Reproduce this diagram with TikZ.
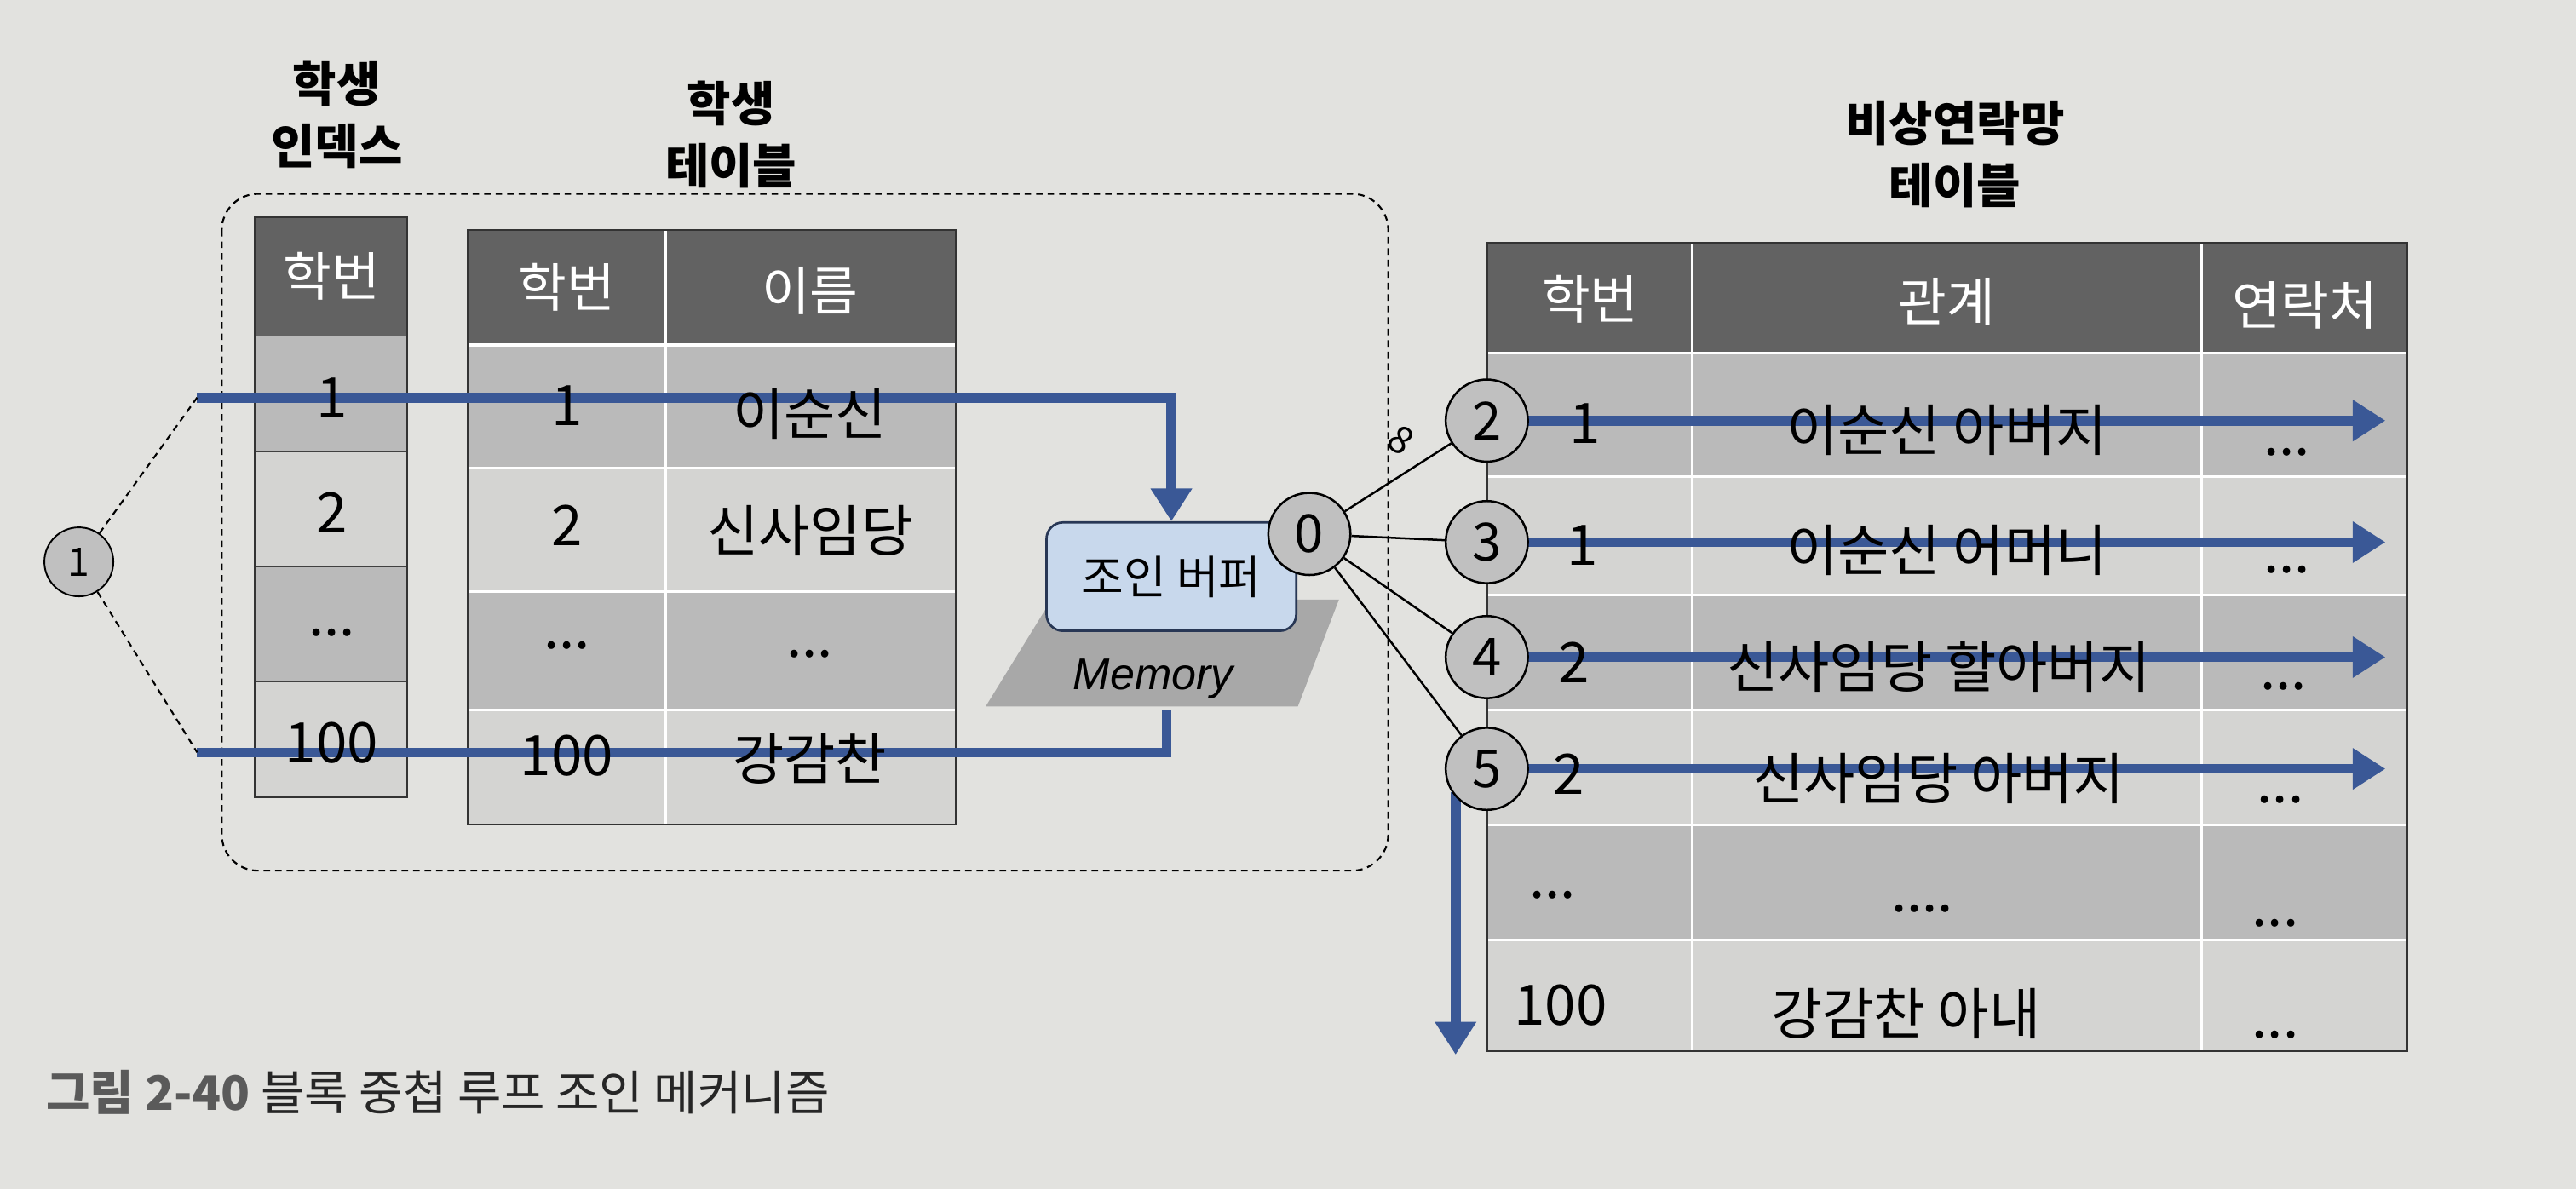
\documentclass[tikz,border=0pt]{standalone}
\usepackage{fontspec}
\setmainfont{Noto Sans CJK KR}
\newfontfamily\latf{Liberation Sans}
\usetikzlibrary{arrows.meta}
\definecolor{paper}{RGB}{226,226,223}
\definecolor{hdr}{RGB}{98,98,98}
\definecolor{rowd}{RGB}{186,186,186}
\definecolor{rowl}{RGB}{212,212,210}
\definecolor{bluel}{RGB}{58,88,150}
\definecolor{bufc}{RGB}{200,216,236}
\definecolor{bufd}{RGB}{40,55,85}
\definecolor{memc}{RGB}{168,168,168}
\definecolor{circc}{RGB}{192,192,192}
\definecolor{capg}{RGB}{90,90,90}
\begin{document}
\begin{tikzpicture}[x=1pt,y=-1pt,
  cell/.style={font=\fontsize{34}{38}\selectfont, text=black, inner sep=0pt},
  hcell/.style={font=\fontsize{32}{36}\selectfont, text=white, inner sep=0pt},
  ttl/.style={font=\fontsize{29}{38}\selectfont\bfseries, align=center, inner sep=0pt},
  numc/.style={circle, draw=black, line width=1.3pt, fill=circc, minimum size=50pt, inner sep=0pt, font=\fontsize{32}{34}\selectfont},
  flow/.style={draw=bluel, line width=6pt},
  flowarr/.style={flow, -{Triangle[width=24pt,length=20pt]}},
  link/.style={draw=black, line width=1.3pt},
  sepw/.style={draw=white, line width=1.6pt},
  sepd/.style={draw=black!75, line width=1pt},
  frame/.style={draw=black!80, line width=1.2pt},
  dsh/.style={draw=black, line width=1.1pt, dash pattern=on 4pt off 3pt}
]
% background
\fill[paper] (0,0) rectangle (1568,724);

% ---------- student index ----------
\fill[hdr]  (155,132) rectangle (248,205);
\fill[rowd] (155,205) rectangle (248,275);
\fill[rowl] (155,275) rectangle (248,345);
\fill[rowd] (155,345) rectangle (248,415);
\fill[rowl] (155,415) rectangle (248,485);
\draw[sepd] (155,275) -- (248,275);
\draw[sepd] (155,345) -- (248,345);
\draw[sepd] (155,415) -- (248,415);
\draw[frame] (155,132) rectangle (248,485);

% ---------- student table ----------
\fill[hdr]  (285,140) rectangle (582,210);
\fill[rowd] (285,210) rectangle (582,285);
\fill[rowl] (285,285) rectangle (582,360);
\fill[rowd] (285,360) rectangle (582,432);
\fill[rowl] (285,432) rectangle (582,502);
\draw[sepw] (285,210) -- (582,210);
\draw[sepw] (285,285) -- (582,285);
\draw[sepw] (285,360) -- (582,360);
\draw[sepw] (285,432) -- (582,432);
\draw[sepw] (405,140) -- (405,502);
\draw[frame] (285,140) rectangle (582,502);

% ---------- contact table ----------
\fill[hdr]  (905,148) rectangle (1465,215);
\fill[rowd] (905,215) rectangle (1465,290);
\fill[rowl] (905,290) rectangle (1465,362);
\fill[rowd] (905,362) rectangle (1465,432);
\fill[rowl] (905,432) rectangle (1465,502);
\fill[rowd] (905,502) rectangle (1465,572);
\fill[rowl] (905,572) rectangle (1465,640);
\foreach \yy in {215,290,362,432,502,572} \draw[sepw] (905,\yy) -- (1465,\yy);
\draw[sepw] (1030,148) -- (1030,640);
\draw[sepw] (1340,148) -- (1340,640);
\draw[frame] (905,148) rectangle (1465,640);

% ---------- dashed block ----------
\draw[dsh, rounded corners=22pt] (135,118) rectangle (845,530);

% ---------- memory / join buffer ----------
\fill[memc] (640,365) -- (815,365) -- (790,430) -- (600,430) -- cycle;
\node[font=\latf\itshape\fontsize{27}{32}\selectfont, inner sep=0pt] (mem) at (702,413) {Memory};
\node[draw=bufd, line width=1.4pt, fill=bufc, rounded corners=10pt, minimum width=152pt, minimum height=66pt,
      font=\fontsize{28}{30}\selectfont] (buf) at (713,351) {조인 버퍼};

% ---------- coordinates ----------
\coordinate (ts) at (120,242);
\coordinate (bs) at (120,458);
\coordinate (membot) at (710,432);
\coordinate (a2) at (1452,256);
\coordinate (a3) at (1452,330);
\coordinate (a4) at (1452,400);
\coordinate (a5) at (1452,468);
\coordinate (vd) at (886,642);
\coordinate (vs) at (886,482);

% ---------- blue flows ----------
\draw[flowarr] (ts) -| (buf.north);
\draw[flow] (bs) -| (membot);
\draw[flowarr] (905,256) -- (a2);
\draw[flowarr] (905,330) -- (a3);
\draw[flowarr] (905,400) -- (a4);
\draw[flowarr] (905,468) -- (a5);
\draw[flowarr] (vs) -- (vd);

% ---------- circles ----------
\node[numc, minimum size=42pt, line width=1pt, font=\fontsize{24}{26}\selectfont] (c1) at (48,342) {1};
\node[numc] (c0) at (797,325) {0};
\node[numc] (c2) at (905,256) {2};
\node[numc] (c3) at (905,330) {3};
\node[numc] (c4) at (905,400) {4};
\node[numc] (c5) at (905,468) {5};
\draw[dsh] (c1) -- (ts);
\draw[dsh] (c1) -- (bs);
\draw[link] (c0) -- (c2);
\draw[link] (c0) -- (c3);
\draw[link] (c0) -- (c4);
\draw[link] (c0) -- (c5);
\node[font=\fontsize{23}{23}\selectfont, rotate=-35, inner sep=0pt] (inf) at (853,268) {8};

% ---------- titles ----------
\node[ttl] (t1) at (205,70) {학생\\인덱스};
\node[ttl] (t2) at (445,82) {학생\\테이블};
\node[ttl] (t3) at (1190,94) {비상연락망\\테이블};

% ---------- header texts ----------
\node[hcell] (h1) at (202,168) {학번};
\node[hcell] (h2) at (345,175) {학번};
\node[hcell] (h3) at (493,177) {이름};
\node[hcell] (h4) at (968,182) {학번};
\node[hcell] (h5) at (1185,184) {관계};
\node[hcell] (h6) at (1403,186) {연락처};

% ---------- index cells ----------
\node[cell] (i1) at (202,242) {1};
\node[cell] (i2) at (202,312) {2};
\node[cell] (i3) at (202,385) {...};
\node[cell] (i4) at (202,452) {100};

% ---------- student cells ----------
\node[cell] (s11) at (345,247) {1};
\node[cell] (s12) at (493,252) {이순신};
\node[cell] (s21) at (345,320) {2};
\node[cell] (s22) at (493,323) {신사임당};
\node[cell] (s31) at (345,393) {...};
\node[cell] (s32) at (493,398) {...};
\node[cell] (s41) at (345,460) {100};
\node[cell] (s42) at (493,462) {강감찬};

% ---------- contact cells ----------
\node[cell] (r11) at (965,258) {1};
\node[cell] (r12) at (1185,262) {이순신 아버지};
\node[cell] (r13) at (1392,275) {...};
\node[cell] (r21) at (963,332) {1};
\node[cell] (r22) at (1185,335) {이순신 어머니};
\node[cell] (r23) at (1392,347) {...};
\node[cell] (r31) at (958,403) {2};
\node[cell] (r32) at (1180,406) {신사임당 할아버지};
\node[cell] (r33) at (1390,418) {...};
\node[cell] (r41) at (955,471) {2};
\node[cell] (r42) at (1180,474) {신사임당 아버지};
\node[cell] (r43) at (1388,487) {...};
\node[cell] (r51) at (945,545) {...};
\node[cell] (r52) at (1170,553) {....};
\node[cell] (r53) at (1385,562) {...};
\node[cell] (r61) at (950,612) {100};
\node[cell] (r62) at (1160,617) {강감찬 아내};
\node[cell] (r63) at (1385,630) {...};

% ---------- caption ----------
\node[anchor=west, inner sep=0pt, font=\fontsize{29}{32}\selectfont, text=black!85] (cap) at (28,665)
  {{\bfseries\color{capg}그림 2-40} 블록 중첩 루프 조인 메커니즘};
\end{tikzpicture}
\end{document}
